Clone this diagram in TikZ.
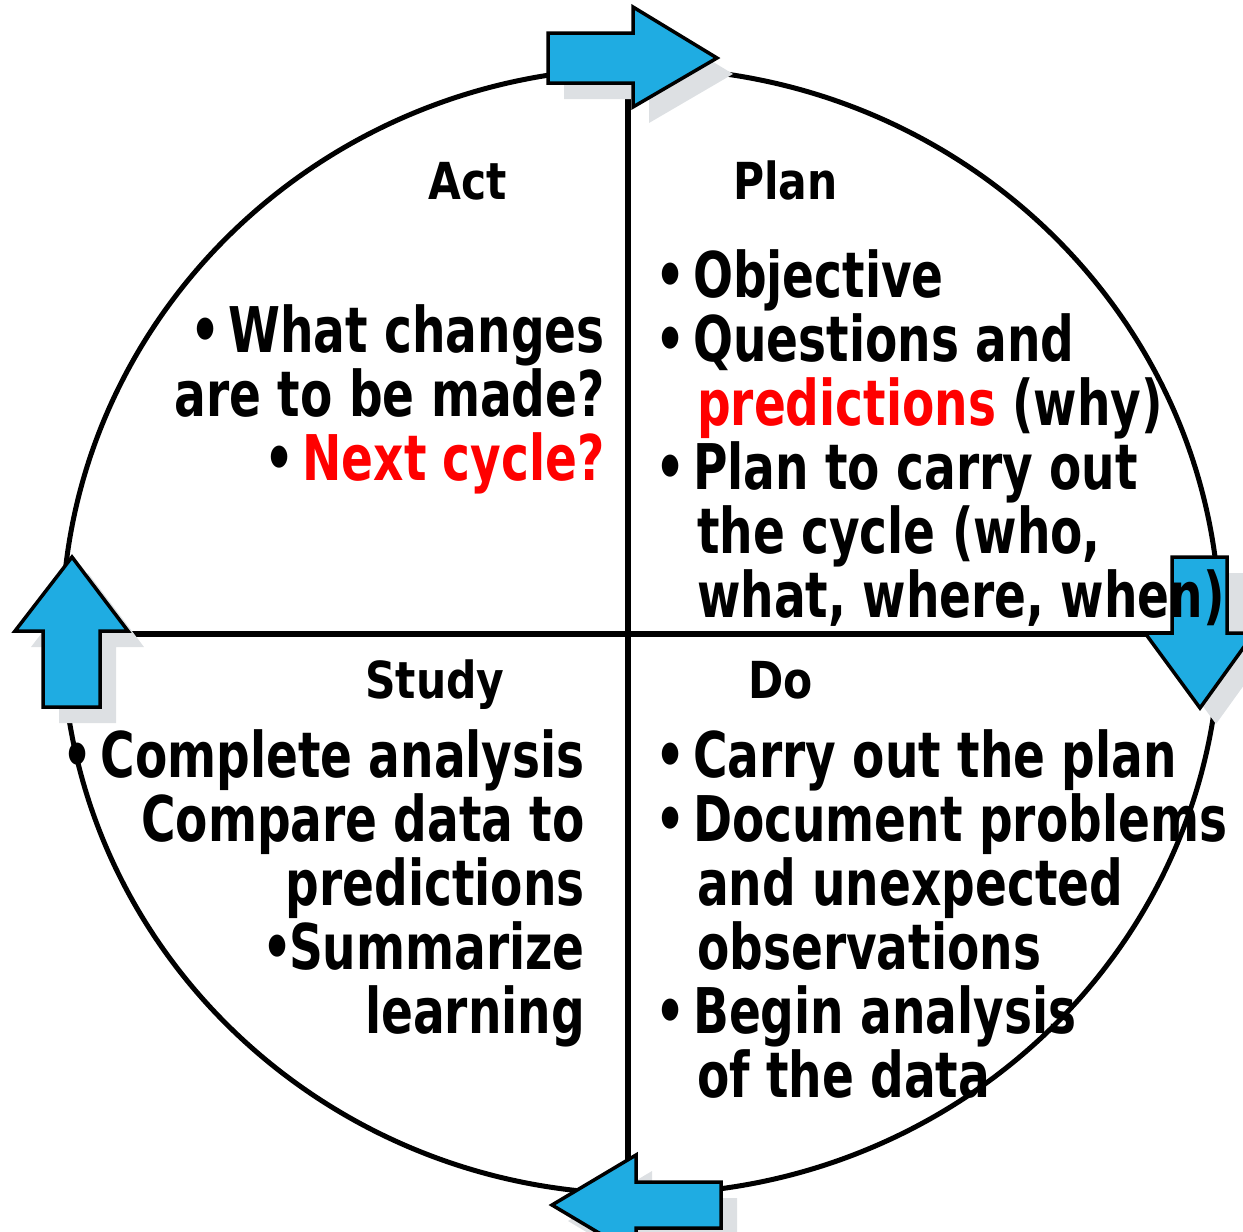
\documentclass[tikz,border=0pt]{standalone}
\usepackage{fontspec}
\newfontfamily\pdcafont{DejaVu Sans Condensed Bold}[FakeStretch=0.83]
\newfontfamily\pdcahead{DejaVu Sans Condensed Bold}[FakeStretch=0.925]
\definecolor{arrowblue}{RGB}{31,172,226}
\definecolor{shadowgray}{RGB}{221,224,227}
\newcommand{\itm}{\makebox[38pt][l]{•}}
\newcommand{\ind}{\hspace*{42pt}}
\newcommand{\cyclearrow}[1]{%
  \fill[arrowshade] #1;
  \filldraw[arrowbody] #1;}
\tikzset{
  head/.style={font=\pdcahead\fontsize{51}{51}\selectfont, inner sep=0pt, anchor=base west},
  item/.style={font=\pdcafont\fontsize{63}{64}\selectfont, inner sep=0pt},
  arrowbody/.style={fill=arrowblue, draw=black, line width=3.5pt, line join=miter},
  arrowshade/.style={fill=shadowgray, shift={(16,16)}},
}

\begin{document}
\begin{tikzpicture}[x=1pt,y=-1pt]
    \useasboundingbox (0,0) rectangle (1243,1232);
    % wheel and cross
    \draw[line width=5pt] (641,631) ellipse [x radius=579pt, y radius=563pt];
    \draw[line width=6pt] (628,68)--(628,1194);
    \draw[line width=5.5pt] (62,634)--(1220,634);
    % arrows round the wheel
    \cyclearrow{(548,33)--(633,33)--(633,7)--(717,58)--(633,107)--(633,83)--(548,83)--cycle}
    \cyclearrow{(1172,557)--(1227,557)--(1227,633)--(1254,633)--(1200,708)--(1145,633)--(1172,633)--cycle}
    \cyclearrow{(721,1182)--(636,1182)--(636,1155)--(552,1205)--(636,1255)--(636,1228)--(721,1228)--cycle}
    \cyclearrow{(43,707)--(43,631)--(15,631)--(72,557)--(128,631)--(100,631)--(100,707)--cycle}
    % headings
    \node[head] (act) at (428,199) {Act};
    \node[head] (plan) at (733,199) {Plan};
    \node[head] (study) at (365,698) {Study};
    \node[head] (do) at (748,698) {Do};
    % lists
    \foreach \txt [count=\i] in {{\itm Objective},{\itm Questions and},
        {\ind\textcolor{red}{predictions} (why)},{\itm Plan to carry out},
        {\ind the cycle (who,},{\ind what, where, when)}}
        \node[item,anchor=base west] (plan\i) at (655,{297+64*(\i-1)}) {\txt};
    \foreach \txt [count=\i] in {{\itm What changes},{are to be made?},
        {\itm\textcolor{red}{Next cycle?}}}
        \node[item,anchor=base east] (act\i) at (605,{352+64*(\i-1)}) {\txt};
    \foreach \txt [count=\i] in {{\itm Complete analysis},{Compare data to},
        {predictions},{\makebox[27pt][l]{•}Summarize},{learning}}
        \node[item,anchor=base east] (study\i) at (585,{777+64*(\i-1)}) {\txt};
    \foreach \txt [count=\i] in {{\itm Carry out the plan},{\itm Document problems},
        {\ind and unexpected},{\ind observations},{\itm Begin analysis},
        {\ind of the data}}
        \node[item,anchor=base west] (do\i) at (655,{777+64*(\i-1)}) {\txt};
\end{tikzpicture}
\end{document}
